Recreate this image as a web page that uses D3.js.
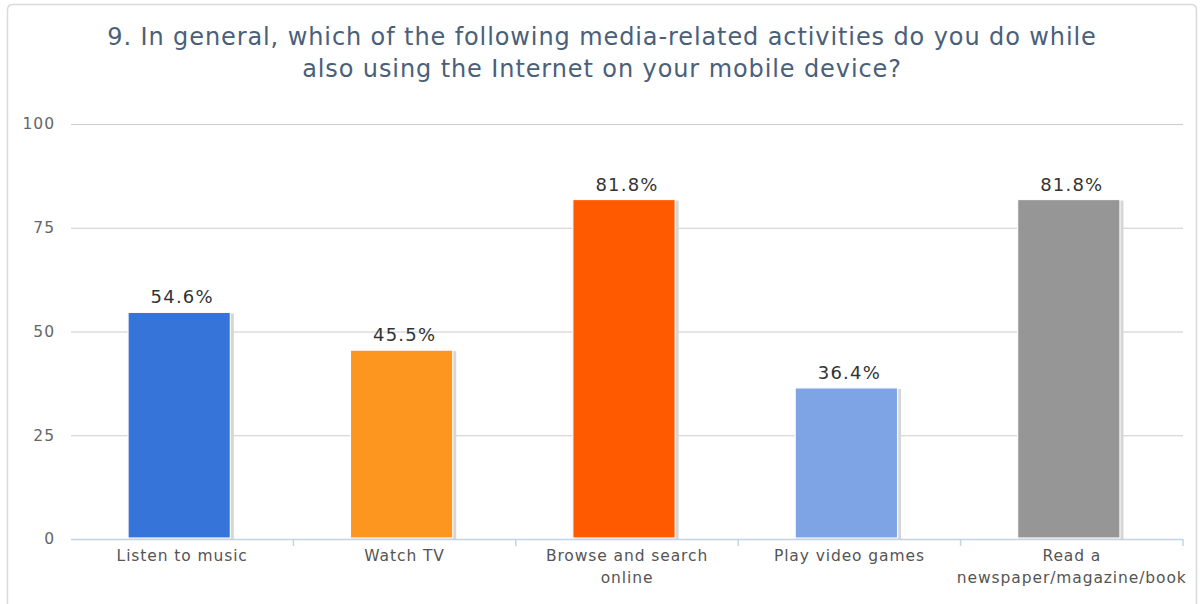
<!DOCTYPE html>
<html>
<head>
<meta charset="utf-8">
<script src="https://cdn.jsdelivr.net/npm/d3@7"></script>
<style>
  html, body { margin: 0; padding: 0; background: #fff; }
  svg { display: block; font-family: "DejaVu Sans", Verdana, sans-serif; }
</style>
</head>
<body>
<svg id="chart" width="1201" height="604"></svg>
<script>
// Survey question 9 – share of respondents doing each activity while on mobile internet
const titleLines = [
  "9. In general, which of the following media-related activities do you do while",
  "also using the Internet on your mobile device?"
];
const categories = [
  ["Listen to music"],
  ["Watch TV"],
  ["Browse and search", "online"],
  ["Play video games"],
  ["Read a", "newspaper/magazine/book"]
];
const values = [54.6, 45.5, 81.8, 36.4, 81.8];
const barColors = ["#3674d9", "#fd961f", "#ff5a00", "#7ea4e6", "#969696"];
const yTicks = [0, 25, 50, 75, 100];

const svg = d3.select("#chart");
const margin = { left: 71, right: 18, top: 124, bottom: 65 };
const W = 1201, H = 604;

// panel frame
svg.append("path")
  .attr("d", "M7.5,612 V10 Q7.5,4.5 13,4.5 H1191 Q1196.5,4.5 1196.5,10 V612")
  .attr("fill", "#fff")
  .attr("stroke", "#d9d9d9")
  .attr("stroke-width", 1.5);

const x = d3.scaleBand()
  .domain(d3.range(categories.length))
  .range([margin.left, W - margin.right]);
const y = d3.scaleLinear()
  .domain([0, 100])
  .range([H - margin.bottom, margin.top]);

// title
const title = svg.append("text")
  .attr("text-anchor", "middle")
  .attr("fill", "#4a6078")
  .attr("font-size", 24)
  .attr("letter-spacing", 0.9);
titleLines.forEach((t, i) => {
  title.append("tspan").attr("x", 602).attr("y", 45 + i * 32).text(t);
});

// horizontal gridlines + y labels
const yAxis = d3.axisLeft(y).tickValues(yTicks).tickSize(-(x.range()[1] - x.range()[0])).tickPadding(16);
const gy = svg.append("g").attr("transform", `translate(${margin.left},0)`).call(yAxis);
gy.select(".domain").remove();
gy.selectAll(".tick line").attr("stroke", "#cccccc").attr("stroke-width", 1.2);
gy.selectAll(".tick text")
  .attr("fill", "#666")
  .attr("font-size", 15.5)
  .attr("letter-spacing", 1)
  .attr("font-family", "DejaVu Sans, sans-serif");

// bars
const barW = x.bandwidth() * 0.46;
const barX = i => x(i) + x.bandwidth() / 2 - barW / 2 - 3;

const bars = svg.append("g");
// soft shadow behind each bar
bars.selectAll("rect.shadow")
  .data(values)
  .join("rect")
  .attr("class", "shadow")
  .attr("x", (d, i) => barX(i) + 1)
  .attr("y", d => y(d) + 1)
  .attr("width", barW + 2.5)
  .attr("height", d => y(0) - y(d) - 1)
  .attr("fill", "#d6d6d6");
bars.selectAll("rect.bar")
  .data(values)
  .join("rect")
  .attr("class", "bar")
  .attr("x", (d, i) => barX(i))
  .attr("y", d => y(d))
  .attr("width", barW)
  .attr("height", d => y(0) - y(d) - 1)
  .attr("fill", (d, i) => barColors[i])
  .attr("stroke", "#fafafa")
  .attr("stroke-width", 1.2);

// value labels
svg.append("g").selectAll("text")
  .data(values)
  .join("text")
  .attr("x", (d, i) => x(i) + x.bandwidth() / 2)
  .attr("y", d => y(d) - 9)
  .attr("text-anchor", "middle")
  .attr("fill", "#333")
  .attr("font-size", 18)
  .attr("letter-spacing", 1.2)
  .text(d => d.toFixed(1) + "%");

// x axis baseline with category separators
const gx = svg.append("g");
gx.append("line")
  .attr("x1", x.range()[0]).attr("x2", x.range()[1])
  .attr("y1", y(0) + 0.5).attr("y2", y(0) + 0.5)
  .attr("stroke", "#c3d3e6").attr("stroke-width", 1.5);
gx.selectAll("line.sep")
  .data(d3.range(1, categories.length + 1))
  .join("line")
  .attr("class", "sep")
  .attr("x1", i => x.range()[0] + i * x.step())
  .attr("x2", i => x.range()[0] + i * x.step())
  .attr("y1", y(0)).attr("y2", y(0) + 7)
  .attr("stroke", "#c3d3e6").attr("stroke-width", 1.5);

const xl = gx.selectAll("text.cat")
  .data(categories)
  .join("text")
  .attr("class", "cat")
  .attr("text-anchor", "middle")
  .attr("fill", "#555")
  .attr("font-size", 15.5)
  .attr("letter-spacing", 0.9);
xl.each(function (lines, i) {
  const t = d3.select(this);
  lines.forEach((ln, j) => {
    t.append("tspan")
      .attr("x", x(i) + x.bandwidth() / 2)
      .attr("y", y(0) + 22 + j * 22)
      .text(ln);
  });
});
</script>
</body>
</html>
